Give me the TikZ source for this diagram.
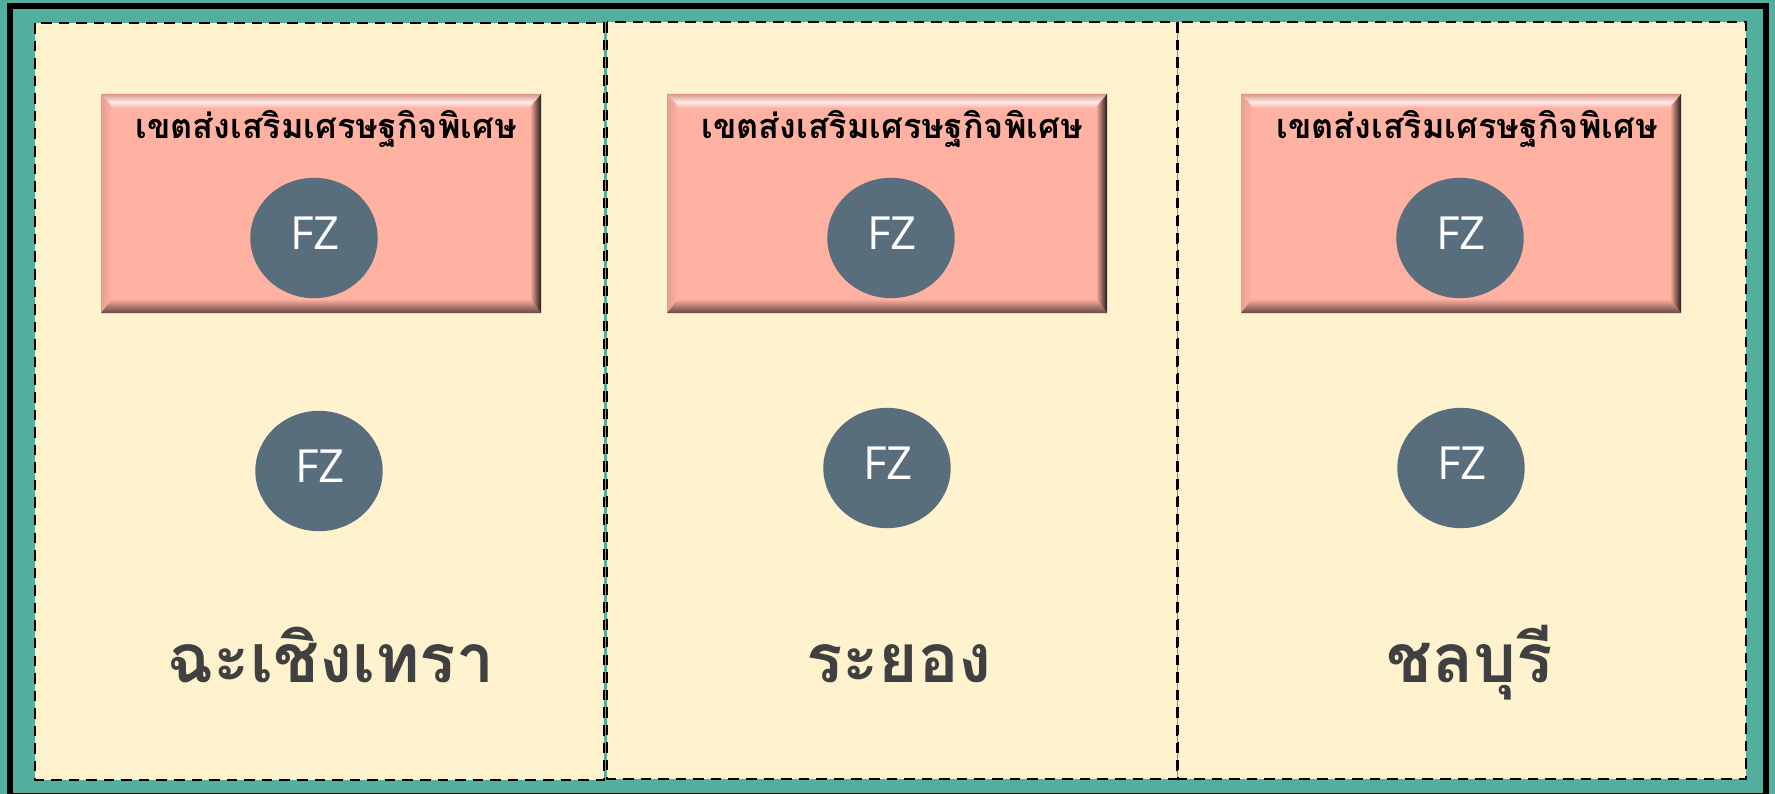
\documentclass[tikz,border=0pt]{standalone}
\usepackage{fontspec}
\usetikzlibrary{shapes.geometric}
\setmainfont{Open Sans}
\newfontfamily\thaifont[Script=Thai]{Loma}

\definecolor{framegreen}{HTML}{53AE9E}
\definecolor{panelcream}{HTML}{FFF2CF}
\definecolor{boxsalmon}{HTML}{FFB1A2}
\definecolor{dotslate}{HTML}{586E7D}
\definecolor{namegray}{HTML}{404040}

\tikzset{
    panel/.style={fill=panelcream, draw=black, line width=1.6pt, dash pattern=on 6pt off 4pt},
    fzdot/.style={ellipse, fill=dotslate, inner sep=0pt, minimum width=72.5pt, minimum height=68.5pt},
    fztext/.style={text=white, font=\fontsize{26}{30}\selectfont, inner sep=0pt},
    zonetext/.style={font=\thaifont\bfseries\fontsize{19.5}{23}\selectfont, inner sep=0pt},
    nametext/.style={text=namegray, font=\thaifont\bfseries\fontsize{38.5}{46}\selectfont, inner sep=0pt, anchor=base}
}

\begin{document}
\begin{tikzpicture}[x=0.02cm, y=-0.02cm]
    % Background and outer frame, all numbers are pixels of the reference
    \useasboundingbox (0,0) rectangle (1775,794);
    \fill[framegreen] (0,0) rectangle (1775,794);
    \draw[black, line width=3.6pt] (10,6) rectangle (1766,796);

    % The three province panels
    \draw[panel] (35,23) rectangle (604,780);
    \draw[panel] (607,22) rectangle (1177,779);
    \draw[panel] (1178,22) rectangle (1746,779);

    % Bevelled boxes, left edge is the loop variable
    \foreach \bx in {101,667,1241} {
        \def\bw{440}
        \fill[boxsalmon] (\bx,94) rectangle (\bx+\bw,313);
        \shade[top color=boxsalmon!85!black, bottom color=white!75!boxsalmon]
            (\bx,94) -- (\bx+\bw,94) -- (\bx+\bw-8,102) -- (\bx+8,102) -- cycle;
        \shade[top color=white!75!boxsalmon, bottom color=boxsalmon]
            (\bx+8,102) -- (\bx+\bw-8,102) -- (\bx+\bw-11,108) -- (\bx+11,108) -- cycle;
        \shade[left color=boxsalmon!90!black, right color=boxsalmon]
            (\bx,94) -- (\bx+11,108) -- (\bx+11,299) -- (\bx,313) -- cycle;
        \shade[left color=boxsalmon, right color=boxsalmon!15!black]
            (\bx+\bw,94) -- (\bx+\bw-11,108) -- (\bx+\bw-11,299) -- (\bx+\bw,313) -- cycle;
        \shade[top color=boxsalmon, bottom color=boxsalmon!40!black]
            (\bx,313) -- (\bx+\bw,313) -- (\bx+\bw-11,299) -- (\bx+11,299) -- cycle;
    }

    % Box titles
    \node[zonetext] (zone1) at (326,129) {เขตส่งเสริมเศรษฐกิจพิเศษ};
    \node[zonetext] (zone2) at (892,129) {เขตส่งเสริมเศรษฐกิจพิเศษ};
    \node[zonetext] (zone3) at (1467,129) {เขตส่งเสริมเศรษฐกิจพิเศษ};

    % FZ circles, upper row inside the boxes and lower row under them
    \foreach \name/\cx/\cy in {a/314/238, b/891/238, c/1460/238, d/319/471, e/887/468, f/1461/468} {
        \node[fzdot] (dot\name) at (\cx,\cy) {};
        \node[fztext] (fz\name) at (\cx+1,\cy-5) {FZ};
    }

    % Province names
    \node[nametext] (chachoengsao) at (331,682) {ฉะเชิงเทรา};
    \node[nametext] (rayong) at (899,682) {ระยอง};
    \node[nametext] (chonburi) at (1470,682) {ชลบุรี};
\end{tikzpicture}
\end{document}
